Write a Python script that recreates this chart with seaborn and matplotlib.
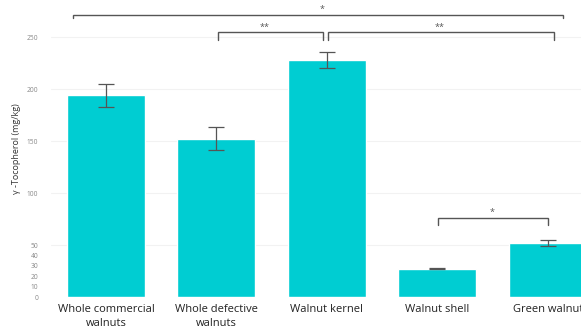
import matplotlib
matplotlib.use("Agg")
import matplotlib.pyplot as plt
import seaborn as sns
import pandas as pd

# ---- data ----
categories = ["Whole commercial\nwalnuts", "Whole defective\nwalnuts", "Walnut kernel",
              "Walnut shell", "Green walnut"]
values = [194, 152, 228, 27, 52]
errors = [11, 11, 8, 0.5, 2.5]
y_ticks = [0, 10, 20, 30, 40, 50, 100, 150, 200, 250]
grid_vals = [50, 100, 150, 200, 250]

# significance brackets: (x_start, x_end, y, drop, label, label_x, label_y)
brackets = [
    (-0.30, 4.14, 270.7, 2.9, "*", 1.96, 276.9),
    (1.015, 1.965, 254.8, 7.7, "**", 1.44, 259.6),
    (2.01, 4.06, 254.8, 7.7, "**", 3.02, 259.6),
    (3.006, 4.0, 76.0, 6.8, "*", 3.5, 81.7),
]

df = pd.DataFrame({"cat": categories, "val": values})

sns.set_theme(style="white")
plt.rcParams['font.family'] = ['Open Sans', 'DejaVu Sans']

fig = plt.figure(figsize=(5.81, 3.32), dpi=100)
ax = fig.add_axes([50.75 / 581, 35 / 332, 552.25 / 581, 297 / 332])

for g in grid_vals:
    ax.axhline(g, color="#f2f2f2", lw=0.8, zorder=0)

sns.barplot(data=df, x="cat", y="val", color="#00CDD2", saturation=1,
            width=0.705, ax=ax, zorder=2)
ax.errorbar(range(len(values)), values, yerr=errors, fmt="none",
            ecolor="#555555", elinewidth=0.9, capsize=5.5, capthick=0.9, zorder=3)

for x0, x1, y, d, lab, lx, ly in brackets:
    ax.plot([x0, x0, x1, x1], [y - d, y, y, y - d], color="#555555", lw=1.0,
            solid_joinstyle="miter", zorder=4)
    ax.text(lx, ly, lab, ha="center", va="center", fontsize=6.5, color="#555555")

ax.set_xlim(-0.5, 4.5)
ax.set_ylim(0, 297 / 1.04)
ax.set_yticks(y_ticks)
ax.set_yticklabels([str(t) for t in y_ticks])
ax.tick_params(axis="y", length=0, pad=9, labelsize=4.8, labelcolor="#888888")
ax.tick_params(axis="x", length=0, pad=5, labelsize=8, labelcolor="#222222")
for lbl in ax.get_xticklabels():
    lbl.set_linespacing(1.35)
ax.set_xlabel("")
ax.set_ylabel("γ -Tocopherol (mg/kg)", fontsize=6.5, color="#333333", labelpad=4)
for s in ax.spines.values():
    s.set_visible(False)

fig.savefig("out.png", dpi=100)
